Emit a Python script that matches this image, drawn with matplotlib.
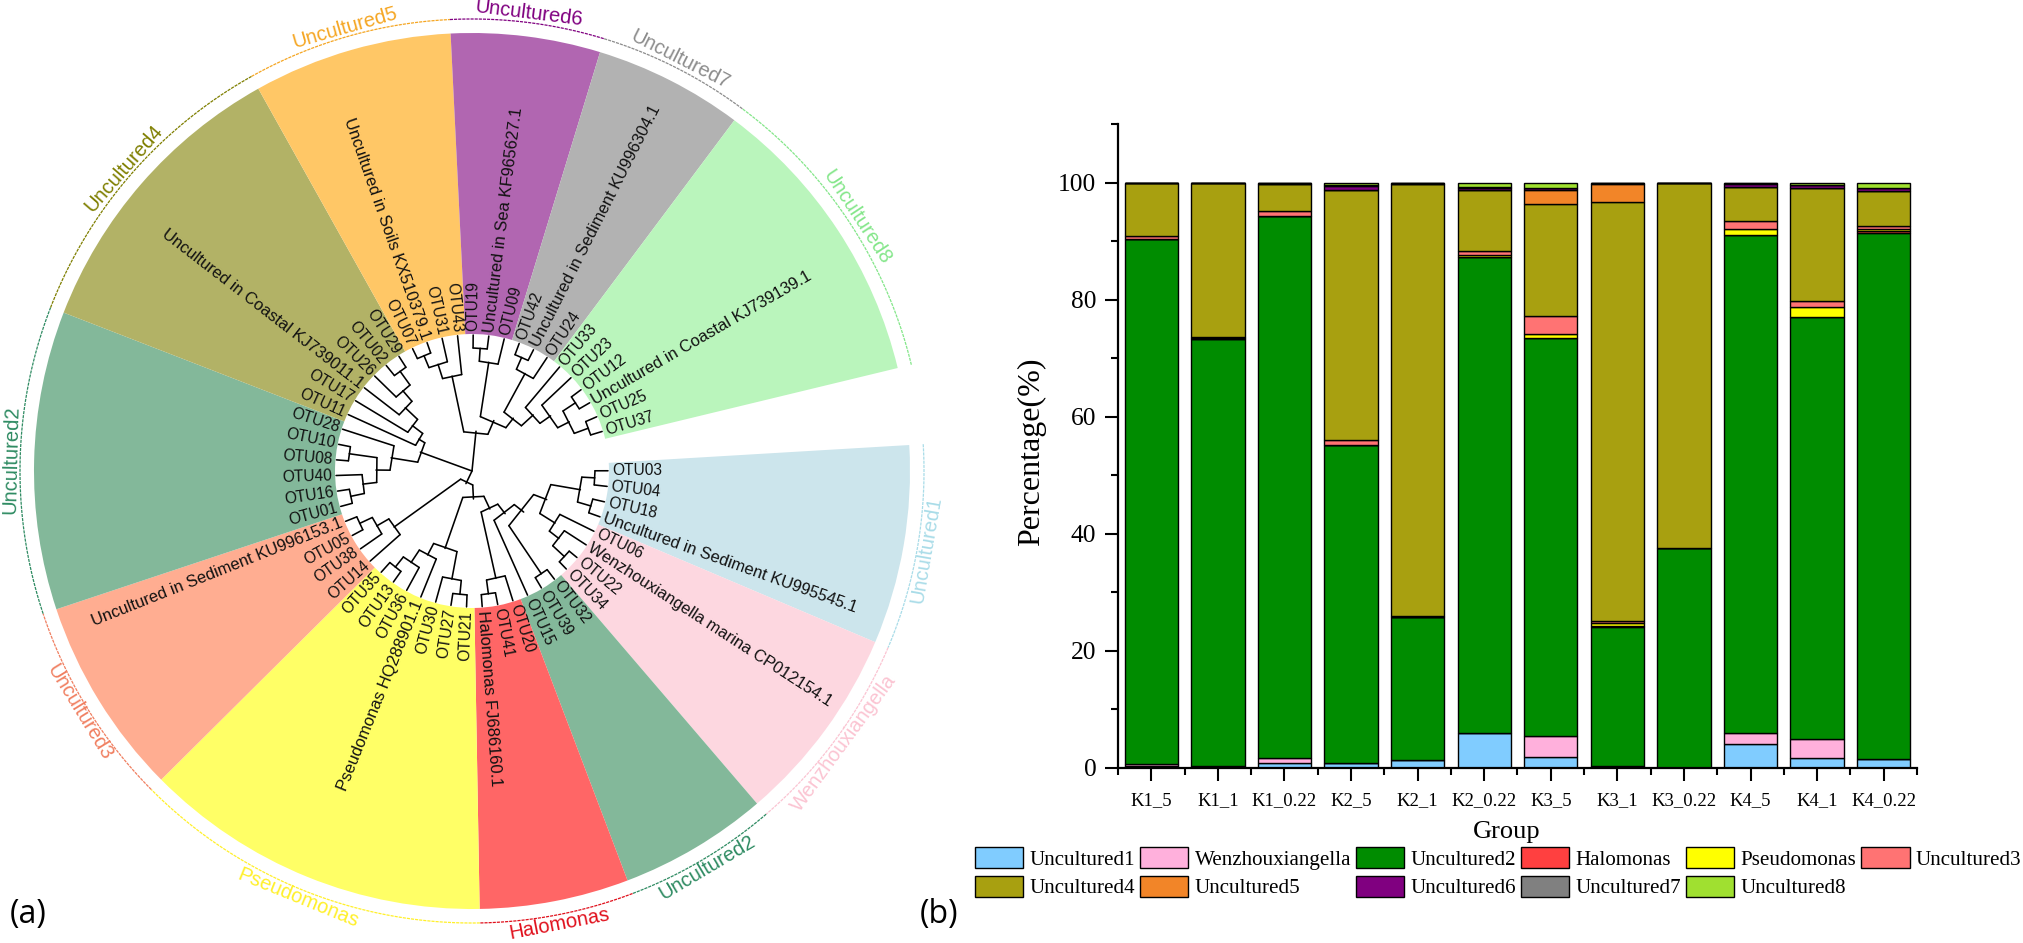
import numpy as np
import matplotlib
matplotlib.use("Agg")
import matplotlib.pyplot as plt
from matplotlib.ticker import MultipleLocator, FixedLocator, NullFormatter

W, H = 2024, 943

# ---- tree data: (node radius, children...), strings are the tips
u1_clade = (110, (123, 'OTU03', 'OTU04'), (124, 'OTU18', 'Uncultured in Sediment KU995545.1'))
pink_clade = (98, 'OTU06', (110, 'Wenzhouxiangella marina CP012154.1', (126, 'OTU22', 'OTU34')))
u2b_clade = (124, 'OTU32', 'OTU39')
red_clade = (110, 'OTU20', (124, 'OTU41', 'Halomonas FJ686160.1'))
yellow_clade = (82, (110, (124, 'OTU21', 'OTU27'), 'OTU30'),
                (95, 'Pseudomonas HQ288901.1', (110, 'OTU36', (123, 'OTU13', 'OTU35'))))
salmon_clade = (96, 'OTU14', (110, 'OTU38', (124, 'OTU05', 'Uncultured in Sediment KU996153.1')))
u2a_clade = (82, (96, (110, (124, 'OTU01', 'OTU16'), 'OTU40'), (124, 'OTU08', 'OTU10')), 'OTU28')
olive_clade = (62, 'OTU11', (75, 'OTU17', (92, 'Uncultured in Coastal KJ739011.1',
                                           (106, 'OTU26', (123, 'OTU02', 'OTU29')))))
u5_clade = (97, (112, (125, 'OTU07', 'Uncultured in Soils KX510379.1'), 'OTU31'), 'OTU43')
u6_clade = (110, (123, 'OTU19', 'Uncultured in Sea KF965627.1'), 'OTU09')
u7_clade = (111, (124, 'OTU42', 'Uncultured in Sediment KU996304.1'), 'OTU24')
u8_clade = (83, 'OTU33', (96, 'OTU23', (109, (124, 'OTU12', 'Uncultured in Coastal KJ739139.1'),
                                        (124, 'OTU25', 'OTU37'))))
lower = (14, (28, (42, (54, (66, (80, u1_clade, pink_clade), u2b_clade), 'OTU15'), red_clade), yellow_clade),
         salmon_clade)
left = (55, u2a_clade, olive_clade)
top = (40, u5_clade, (55, u6_clade, (67, u7_clade, u8_clade)))
tree = (0.5, lower, left, top)

# clockwise from OTU03
leaves = ['OTU03', 'OTU04', 'OTU18', 'Uncultured in Sediment KU995545.1',
          'OTU06', 'Wenzhouxiangella marina CP012154.1', 'OTU22', 'OTU34',
          'OTU32', 'OTU39', 'OTU15',
          'OTU20', 'OTU41', 'Halomonas FJ686160.1',
          'OTU21', 'OTU27', 'OTU30', 'Pseudomonas HQ288901.1', 'OTU36', 'OTU13', 'OTU35',
          'OTU14', 'OTU38', 'OTU05', 'Uncultured in Sediment KU996153.1',
          'OTU01', 'OTU16', 'OTU40', 'OTU08', 'OTU10', 'OTU28',
          'OTU11', 'OTU17', 'Uncultured in Coastal KJ739011.1', 'OTU26', 'OTU02', 'OTU29',
          'OTU07', 'Uncultured in Soils KX510379.1', 'OTU31', 'OTU43',
          'OTU19', 'Uncultured in Sea KF965627.1', 'OTU09',
          'OTU42', 'Uncultured in Sediment KU996304.1', 'OTU24',
          'OTU33', 'OTU23', 'OTU12', 'Uncultured in Coastal KJ739139.1', 'OTU25', 'OTU37']

clade_names = ['Uncultured1', 'Wenzhouxiangella', 'Uncultured2', 'Halomonas', 'Pseudomonas', 'Uncultured3',
               'Uncultured2', 'Uncultured4', 'Uncultured5', 'Uncultured6', 'Uncultured7', 'Uncultured8']
clade_sizes = [4, 4, 3, 3, 7, 4, 6, 6, 4, 3, 3, 6]
wedge_colors = ['#CCE5EC', '#FDD7E0', '#83B89A', '#FF6666', '#FFFF66', '#FFAD91',
                '#83B89A', '#B2B266', '#FFC766', '#B166B1', '#B2B2B2', '#BAF5BC']
arc_colors = ['#A9DCE8', '#FBC4D2', '#2E8B62', '#E0101C', '#FFF02A', '#F07F60',
              '#2E8B62', '#7F7F00', '#F5A623', '#800080', '#8C8C8C', '#84E68A']

# ---- bar data, bottom to top of the stack
groups = ['K1_5', 'K1_1', 'K1_0.22', 'K2_5', 'K2_1', 'K2_0.22', 'K3_5', 'K3_1', 'K3_0.22', 'K4_5', 'K4_1', 'K4_0.22']
uncultured1 = [0.3, 0.2, 0.85, 0.85, 1.4, 6.0, 1.8, 0.2, 0, 4.1, 1.7, 1.5]
wenzhouxiangella = [0.3, 0.2, 0.85, 0.05, 0, 0, 3.7, 0.2, 0, 1.8, 3.25, 0.1]
uncultured2 = [89.7, 72.8, 92.55, 54.25, 24.45, 81.2, 68.0, 23.7, 37.5, 85.1, 72.1, 89.7]
halomonas = [0, 0.1, 0, 0, 0, 0, 0, 0.2, 0, 0, 0, 0.4]
pseudomonas = [0, 0.1, 0, 0.1, 0, 0.45, 0.7, 0.4, 0, 1.1, 1.75, 0.3]
uncultured3 = [0.6, 0.3, 0.85, 0.85, 0.1, 0.65, 3.0, 0.4, 0.1, 1.35, 1.0, 0.65]
uncultured4 = [9.0, 26.2, 4.6, 42.7, 73.8, 10.5, 19.1, 71.6, 62.3, 5.8, 19.3, 5.85]
uncultured5 = [0, 0, 0.1, 0, 0, 0, 2.4, 3.1, 0, 0, 0, 0]
uncultured6 = [0.1, 0.1, 0.2, 0.6, 0.15, 0.3, 0.3, 0.1, 0.1, 0.55, 0.45, 0.6]
uncultured7 = [0, 0, 0, 0.1, 0, 0.1, 0.1, 0, 0, 0.1, 0.1, 0]
uncultured8 = [0, 0, 0, 0.5, 0, 0.8, 0.9, 0, 0, 0.1, 0.35, 0.9]

series = [uncultured1, wenzhouxiangella, uncultured2, halomonas, pseudomonas, uncultured3,
          uncultured4, uncultured5, uncultured6, uncultured7, uncultured8]
series_names = ['Uncultured1', 'Wenzhouxiangella', 'Uncultured2', 'Halomonas', 'Pseudomonas', 'Uncultured3',
                'Uncultured4', 'Uncultured5', 'Uncultured6', 'Uncultured7', 'Uncultured8']
series_colors = ['#80CCFF', '#FFB0DC', '#008C00', '#FF4040', '#FFFF00', '#FF7373',
                 '#A8A010', '#F28528', '#800080', '#808080', '#A0E030']

fig = plt.figure(figsize=(W / 100, H / 100), dpi=100, facecolor='white')

# ---- (a) circular tree
R_MAX = 468
cx, cy = 472, 471
ax = fig.add_axes([(cx - R_MAX) / W, (H - cy - R_MAX) / H, 2 * R_MAX / W, 2 * R_MAX / H], projection='polar')
ax.set_ylim(0, R_MAX)
ax.axis('off')

STEP = 6.6
START = 3.4
R_TIP = 136
R_IN = 137
R_OUT = 438
R_ARC = 452
R_NAME = 461

leaf_deg = {name: START - STEP * (i + 0.5) for i, name in enumerate(leaves)}


def draw_node(node):
    if isinstance(node, str):
        return leaf_deg[node], R_TIP
    r = node[0]
    kids = [draw_node(k) for k in node[1:]]
    for t, kr in kids:
        ax.plot(np.radians([t, t]), [kr, r], color='black', lw=1.15, solid_capstyle='round')
    t0, t1 = kids[0][0], kids[-1][0]
    ax.plot(np.radians([t0, t1]), [r, r], color='black', lw=1.15, solid_capstyle='round')
    return (t0 + t1) / 2, r


pos = 0
for name, n, wc, ac in zip(clade_names, clade_sizes, wedge_colors, arc_colors):
    t_start = START - STEP * pos
    t_end = START - STEP * (pos + n)
    mid = (t_start + t_end) / 2
    ax.bar(np.radians(mid), R_OUT - R_IN, width=np.radians(STEP * n), bottom=R_IN, color=wc, linewidth=0)
    arc = np.radians(np.linspace(t_start, t_end, 60))
    ax.plot(arc, np.full(60, R_ARC), color=ac, lw=0.9, ls=(0, (2.5, 0.8)))
    m = (mid + 180) % 360 - 180
    rot = m + 90 if m < 0 else m - 90
    ax.text(np.radians(mid), R_NAME, name, color=ac, fontsize=14.5, family='Liberation Sans',
            rotation=rot, rotation_mode='anchor', ha='center', va='center')
    pos += n

draw_node(tree)

for name, deg in leaf_deg.items():
    m = (deg + 180) % 360 - 180
    if abs(m) <= 90:
        rot, ha = m, 'left'
    else:
        rot, ha = m + 180, 'right'
    size = 11.2 if name.startswith('OTU') else 11.9
    ax.text(np.radians(deg), 140, name, fontsize=size, family='Liberation Sans', color='#111111',
            rotation=rot, rotation_mode='anchor', ha=ha, va='center')

fig.text(28 / W, 1 - 915 / H, '(a)', fontsize=23, family='Open Sans', ha='center', va='center')
fig.text(939 / W, 1 - 915 / H, '(b)', fontsize=23, family='Open Sans', ha='center', va='center')

# ---- (b) stacked bars
bx = fig.add_axes([1118 / W, (H - 768) / H, 799 / W, (768 - 124) / H])
x = np.arange(1, len(groups) + 1)
bottom = np.zeros(len(groups))
handles = []
for vals, nm, col in zip(series, series_names, series_colors):
    b = bx.bar(x, vals, width=0.8, bottom=bottom, color=col, edgecolor='black', linewidth=1.0, label=nm)
    handles.append(b)
    bottom += np.array(vals)

bx.set_xlim(0.5, 12.5)
bx.set_ylim(0, 110)
for s in ['top', 'right']:
    bx.spines[s].set_visible(False)
for s in ['left', 'bottom']:
    bx.spines[s].set_linewidth(1.6)
bx.set_xticks(x)
bx.set_xticklabels(groups, family='Liberation Serif', fontsize=13.4)
bx.xaxis.set_minor_locator(FixedLocator(np.arange(0.5, 13, 1)))
bx.xaxis.set_minor_formatter(NullFormatter())
bx.set_yticks([0, 20, 40, 60, 80, 100])
bx.set_yticklabels(['0', '20', '40', '60', '80', '100'], family='Liberation Serif', fontsize=18.4)
bx.yaxis.set_minor_locator(MultipleLocator(10))
bx.tick_params(axis='both', which='major', length=9.5, width=1.5)
bx.tick_params(axis='both', which='minor', length=5, width=1.5)
bx.tick_params(axis='x', which='major', pad=8)
bx.tick_params(axis='y', which='major', pad=6)

fig.text(1507 / W, 1 - 832 / H, 'Group', family='Liberation Serif', fontsize=19, ha='center', va='center')
fig.text(1032 / W, 1 - 452 / H, 'Percentage(%)', family='Liberation Serif', fontsize=23, rotation=90,
         ha='center', va='center')

# legend fills by column, the picture reads by row
order = [0, 6, 1, 7, 2, 8, 3, 9, 4, 10, 5]
bx.legend([handles[i] for i in order], [series_names[i] for i in order], ncol=6,
          loc='upper left', bbox_to_anchor=(975 / W, 1 - 847 / H), bbox_transform=fig.transFigure,
          frameon=False, borderpad=0, borderaxespad=0, handlelength=2.3, handleheight=1.15,
          handletextpad=0.3, columnspacing=0.235, labelspacing=0.3,
          prop={'family': 'Liberation Serif', 'size': 15.1})

fig.savefig('out.png', dpi=100)
